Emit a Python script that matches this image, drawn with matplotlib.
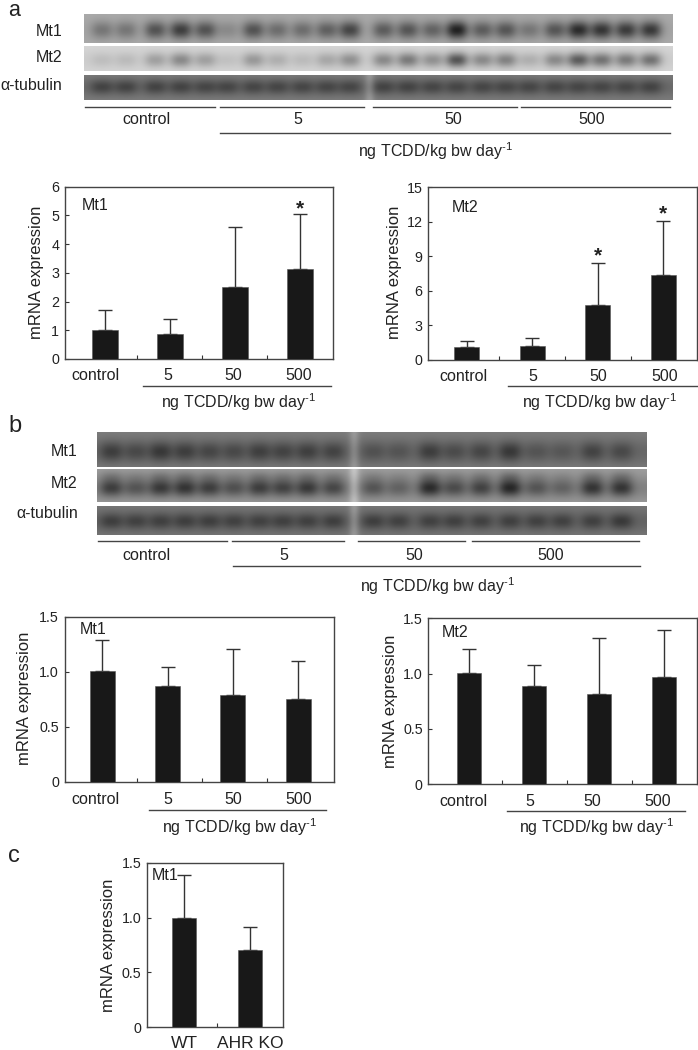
import numpy as np
import matplotlib
matplotlib.use("Agg")
import matplotlib.pyplot as plt
from matplotlib.lines import Line2D

plt.rcParams['font.family'] = ['Liberation Sans', 'DejaVu Sans']
plt.rcParams['mathtext.default'] = 'regular'

W, H = 698, 1050
INK = '#222222'
BAR = '#181818'
UNIT = 'ng TCDD/kg bw day$^{\u20101}$'

# ---- data -------------------------------------------------------------
doses = ['control', '5', '50', '500']
genotypes = ['WT', 'AHR KO']

a_mt1_mean = [1.0, 0.86, 2.5, 3.13]
a_mt1_top = [1.7, 1.4, 4.6, 5.05]
a_mt2_mean = [1.1, 1.2, 4.8, 7.35]
a_mt2_top = [1.6, 1.85, 8.4, 12.05]
b_mt1_mean = [1.01, 0.87, 0.79, 0.75]
b_mt1_top = [1.29, 1.04, 1.21, 1.10]
b_mt2_mean = [1.01, 0.89, 0.82, 0.97]
b_mt2_top = [1.22, 1.08, 1.32, 1.39]
c_mt1_mean = [1.0, 0.70]
c_mt1_top = [1.39, 0.91]

# blot band darkness per lane (0 = none, 1 = darkest)
a_blot_mt1 = [0.35, 0.35, 0.62, 0.78, 0.62, 0.2, 0.62, 0.42, 0.42, 0.52, 0.72,
              0.55, 0.6, 0.5, 1.0, 0.55, 0.6, 0.35, 0.6, 0.92, 0.85, 0.8, 0.82]
a_blot_mt2 = [0.1, 0.12, 0.3, 0.45, 0.3, 0.08, 0.35, 0.2, 0.12, 0.25, 0.4,
              0.45, 0.55, 0.4, 0.8, 0.45, 0.5, 0.2, 0.45, 0.75, 0.6, 0.55, 0.6]
a_blot_tub = [0.8, 0.8, 0.8, 0.8, 0.75, 0.75, 0.75, 0.75, 0.75, 0.75, 0.75,
              0.8, 0.8, 0.75, 0.75, 0.75, 0.75, 0.75, 0.75, 0.75, 0.75, 0.75, 0.8]
b_blot_mt1 = [0.75, 0.55, 0.85, 0.75, 0.6, 0.55, 0.72, 0.65, 0.72, 0.65,
              0.4, 0.35, 0.75, 0.5, 0.6, 0.85, 0.35, 0.3, 0.65, 0.55]
b_blot_mt2 = [0.75, 0.5, 0.8, 0.85, 0.75, 0.55, 0.75, 0.7, 0.8, 0.65,
              0.5, 0.35, 0.95, 0.6, 0.7, 1.0, 0.5, 0.35, 0.85, 0.85]
b_blot_tub = [0.75, 0.7, 0.72, 0.75, 0.75, 0.7, 0.7, 0.72, 0.72, 0.75,
              0.75, 0.7, 0.7, 0.72, 0.7, 0.72, 0.7, 0.7, 0.72, 0.85]

# ---- layout (pixel positions on the page) -------------------------------
a_lanes = np.array([228, 282, 348, 405, 460, 510, 568, 622, 678, 733, 785, 860, 915,
                    970, 1025, 1082, 1135, 1188, 1245, 1298, 1350, 1405, 1460]) / 2.246
b_lanes = np.array([250, 305, 360, 415, 470, 525, 582, 635, 690, 748, 838, 895, 965,
                    1020, 1080, 1145, 1205, 1262, 1330, 1395]) / 2.246

fig = plt.figure(figsize=(W / 100, H / 100), dpi=100)


def txt(x, y, s, size=11.5, ha='center', va='center', **kw):
    return fig.text(x / W, 1 - y / H, s, fontsize=size, ha=ha, va=va, color=INK, **kw)


def rule(x0, x1, y, lw=1.0, color='#444444'):
    fig.add_artist(Line2D([x0 / W, x1 / W], [1 - y / H, 1 - y / H], lw=lw, color=color,
                          transform=fig.transFigure))


def blot(x0, x1, y0, y1, lanes, dark, bg, amp, yc, sy, sx, seam=None, seam_amp=0, band=0, second=None):
    ax = fig.add_axes([x0 / W, 1 - y1 / H, (x1 - x0) / W, (y1 - y0) / H])
    xs = np.arange(x0, x1 + 0.5, 0.5)
    ys = np.arange(y0, y1 + 0.5, 0.5)
    X, Y = np.meshgrid(xs, ys)
    img = np.full(X.shape, float(bg))
    if band:
        img -= band * np.exp(-((Y - yc) / (sy * 1.5)) ** 2)
    for c, d in zip(lanes, dark):
        shape = np.exp(-np.abs((X - c) / sx) ** 2.5)
        img -= amp * d * shape * np.exp(-((Y - yc) / sy) ** 2)
        if second is not None:
            img -= second[1] * d * shape * np.exp(-((Y - second[0]) / (sy * 0.7)) ** 2)
    if seam is not None:
        img += seam_amp * np.exp(-((X - seam) / 5.0) ** 2)
    ax.imshow(np.clip(img, 0, 255), cmap='gray', vmin=0, vmax=255, aspect='auto',
              extent=[x0, x1, y1, y0], interpolation='bilinear')
    ax.axis('off')


def chart(rect, means, tops, names, ymax, yticks, ylabels, c0, step, bar_px, cap_px, tick_off=0.0):
    left, right, top, bottom = rect
    ax = fig.add_axes([left / W, 1 - bottom / H, (right - left) / W, (bottom - top) / H])
    idx = np.arange(len(means))
    ax.set_xlim((left - c0) / step, (right - c0) / step)
    ax.set_ylim(0, ymax)
    ax.bar(idx, means, width=bar_px / step, color=BAR, edgecolor='#555555', linewidth=0.4, zorder=3)
    up = np.array(tops) - np.array(means)
    ax.errorbar(idx, means, yerr=[np.zeros(len(up)), up], fmt='none', ecolor='#333333',
                elinewidth=1.0, capsize=cap_px * 0.36, capthick=1.0, zorder=2)
    ax.set_yticks(yticks)
    ax.set_yticklabels(ylabels, fontsize=10.3, color=INK)
    ax.set_xticks(idx[:-1] + 0.5 + tick_off)
    ax.set_xticklabels([])
    ax.tick_params(axis='both', direction='in', length=2.6, width=0.8, color='#333333', pad=4)
    for s in ax.spines.values():
        s.set_linewidth(1.0)
        s.set_color('#444444')
    return ax


# ---- panel letters ------------------------------------------------------
txt(14.5, 16, 'a', size=15.5, va='baseline')
txt(14.5, 432, 'b', size=17, va='baseline')
txt(14, 862, 'c', size=17, va='baseline')

# ---- blot a -------------------------------------------------------------
blot(83.7, 672, 14, 42.7, a_lanes, a_blot_mt1, 172, 130, 30, 9, 11, band=8)
blot(83.7, 672, 46, 71, a_lanes, a_blot_mt2, 215, 150, 60, 7.5, 11, band=10)
blot(83.7, 672, 75, 100, a_lanes, a_blot_tub, 128, 48, 87, 7.5, 11.5, seam=369, seam_amp=30, band=22)
txt(49, 31, 'Mt1')
txt(49, 57.3, 'Mt2')
txt(62.5, 85, 'α-tubulin', ha='right')
for x0, x1 in [(190, 482), (494, 817), (838, 1161), (1171, 1505)]:
    rule(x0 / 2.246, x1 / 2.246, 106.7)
for x, s in zip([330, 668, 1018, 1330], doses):
    txt(x / 2.246, 119.3, s)
rule(494 / 2.246, 1505 / 2.246, 132.7)
txt(978 / 2.246, 150.7, UNIT)

# ---- charts a -----------------------------------------------------------
chart((64.6, 333, 186.7, 359), a_mt1_mean, a_mt1_top, doses, 6, range(7),
      [str(v) for v in range(7)], 104.6, 65, 26, 14)
txt(36.5, 272.7, 'mRNA expression', size=12, rotation=90)
txt(95, 205, 'Mt1')
txt(300, 209, '*', size=15, fontweight='bold')
for x, s in zip([95.7, 168, 233, 299], doses):
    txt(x, 375, s)
rule(142.5, 331, 385.7)
txt(238, 402, UNIT)

chart((428.3, 696.8, 187.3, 359.7), a_mt2_mean, a_mt2_top, doses, 15, range(0, 16, 3),
      [str(v) for v in range(0, 16, 3)], 466.6, 65.6, 25, 14)
txt(395, 272.7, 'mRNA expression', size=12, rotation=90)
txt(465, 207.7, 'Mt2')
txt(597.5, 256, '*', size=15, fontweight='bold')
txt(662.5, 214, '*', size=15, fontweight='bold')
for x, s in zip([463, 532.5, 598, 665], doses):
    txt(x, 376.7, s)
rule(507.5, 697, 385.7)
txt(599, 402, UNIT)

# ---- blot b -------------------------------------------------------------
blot(97, 646.5, 432, 466.7, b_lanes, b_blot_mt1, 128, 55, 451.7, 10, 11.5, seam=354, seam_amp=30, band=25)
blot(97, 646.5, 469.3, 501.7, b_lanes, b_blot_mt2, 160, 90, 488, 8.5, 11.5, seam=354, seam_amp=40,
     band=30, second=(476.5, 30))
blot(97, 646.5, 505.7, 535, b_lanes, b_blot_tub, 122, 50, 521.7, 8, 11.5, seam=354, seam_amp=35, band=22)
txt(64, 451.5, 'Mt1')
txt(64, 483, 'Mt2')
txt(78, 514, 'α-tubulin', ha='right')
for x0, x1 in [(220, 510), (522, 773), (803, 1045), (1060, 1435)]:
    rule(x0 / 2.246, x1 / 2.246, 541.3)
for x, s in zip([330, 638, 930, 1237], doses):
    txt(x / 2.246, 555, s)
rule(523 / 2.246, 1437 / 2.246, 565.7)
txt(982 / 2.246, 585.7, UNIT)

# ---- charts b -----------------------------------------------------------
chart((64.6, 334, 616.7, 781.7), b_mt1_mean, b_mt1_top, doses, 1.5, [0, 0.5, 1.0, 1.5],
      ['0', '0.5', '1.0', '1.5'], 102.5, 65.2, 25, 14, tick_off=0.03)
txt(24.5, 698, 'mRNA expression', size=12, rotation=90)
txt(93.5, 629.3, 'Mt1')
for x, s in zip([95.7, 168.3, 233.3, 298.8], doses):
    txt(x, 799, s)
rule(149, 326, 809.7)
txt(239, 826.7, UNIT)

chart((428.3, 696.8, 618.3, 784.3), b_mt2_mean, b_mt2_top, doses, 1.5, [0, 0.5, 1.0, 1.5],
      ['0', '0.5', '1.0', '1.5'], 469, 65, 24.5, 14)
txt(390.5, 701.7, 'mRNA expression', size=12, rotation=90)
txt(454.6, 632.7, 'Mt2')
for x, s in zip([463, 530, 592.6, 657.6], doses):
    txt(x, 801, s)
rule(506.7, 684.8, 811.3)
txt(596.6, 826.7, UNIT)

# ---- chart c ------------------------------------------------------------
chart((146.7, 283.3, 862.7, 1027.3), c_mt1_mean, c_mt1_top, genotypes, 1.5, [0, 0.5, 1.0, 1.5],
      ['0', '0.5', '1.0', '1.5'], 184.3, 65.4, 24.3, 14)
txt(108.7, 945, 'mRNA expression', size=12, rotation=90)
txt(165.3, 875, 'Mt1')
for x, s in zip([184.3, 250], genotypes):
    txt(x, 1044, s, size=12.5)

fig.savefig('out.png', dpi=100)
